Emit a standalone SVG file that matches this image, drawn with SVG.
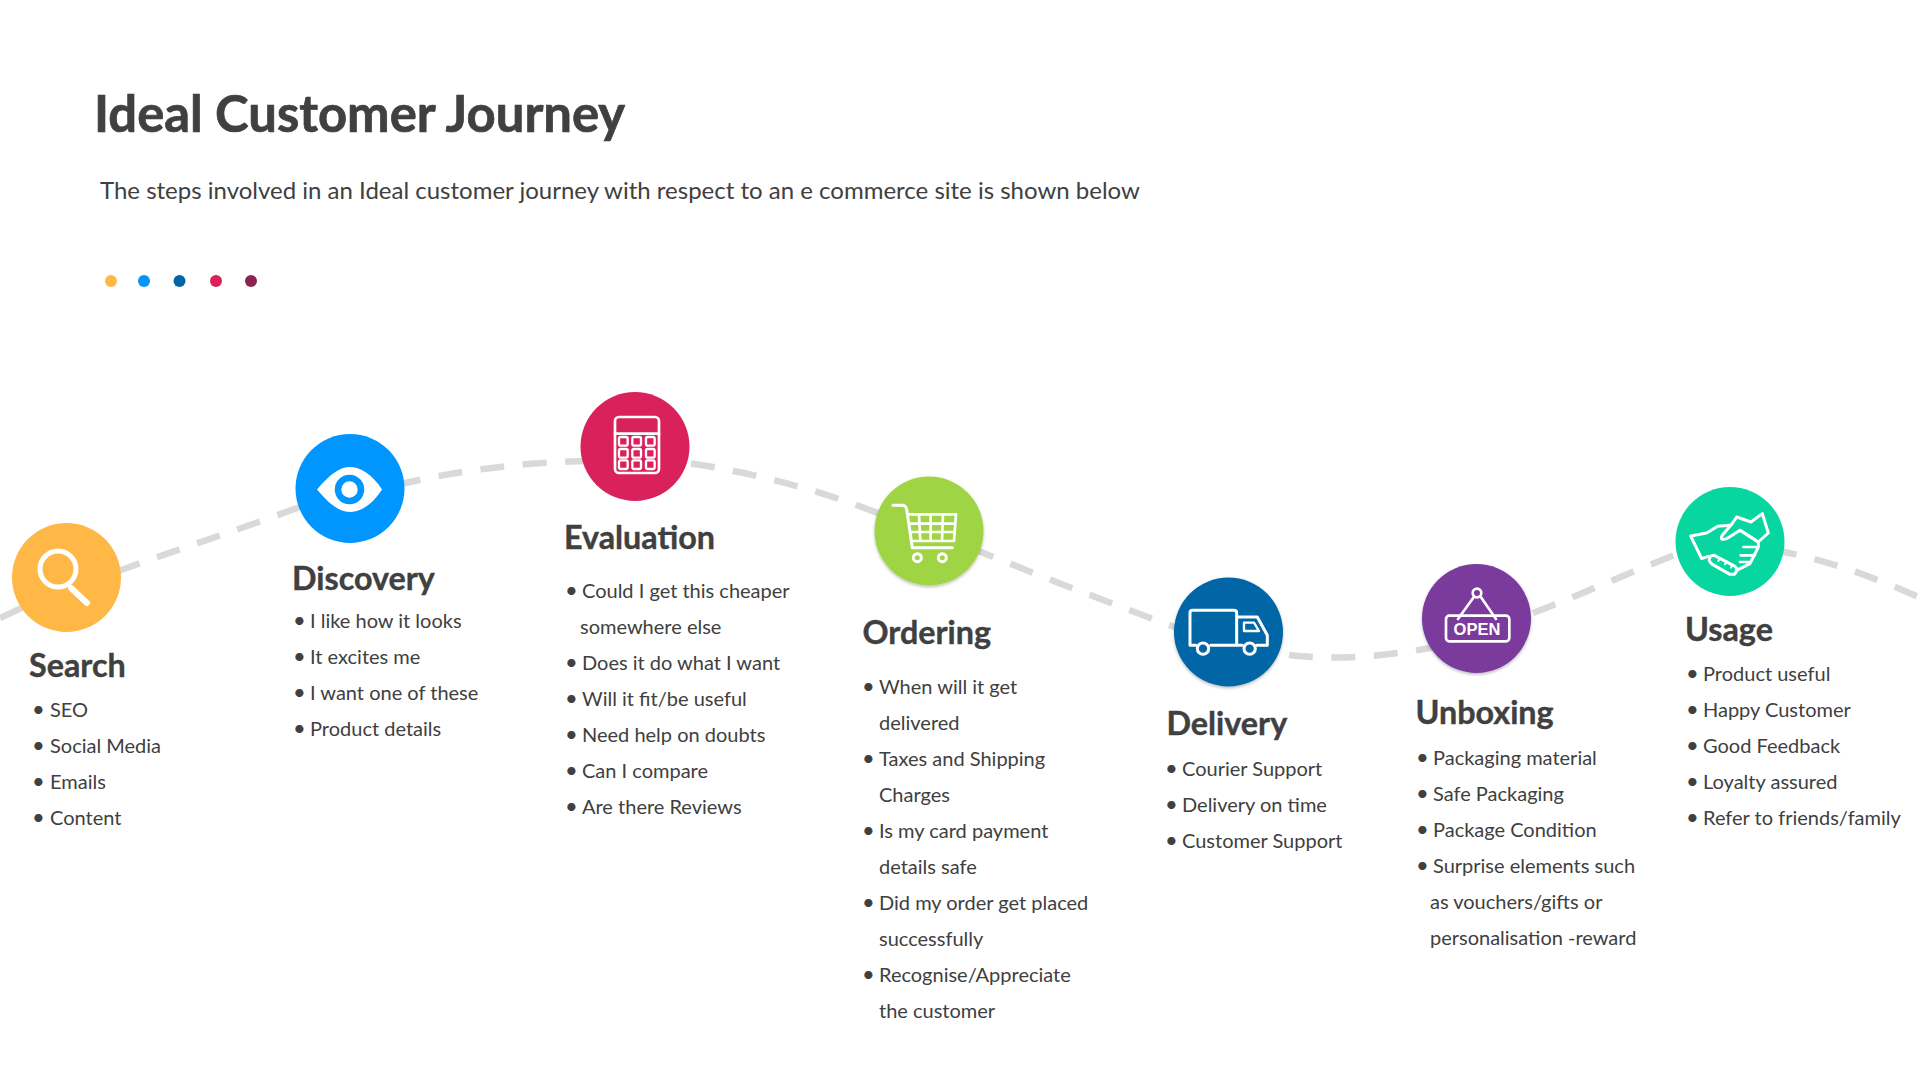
<svg xmlns="http://www.w3.org/2000/svg" width="1920" height="1080" viewBox="0 0 1920 1080">
<style>
text{font-family:Lato,"Liberation Sans",sans-serif;fill:#404040}
.h{font-size:32.3px;font-weight:700;stroke:#404040;stroke-width:.4px}
.t{font-size:20px;transform:translateY(-.8px)}
.b{font-size:22px;transform:translateY(-.8px)}
.i{fill:none;stroke:#fff;stroke-linejoin:round;stroke-linecap:round}
.s{filter:url(#sh)}
#connectors path{fill:none;stroke:#d9d9d9;stroke-width:6.5px;stroke-dasharray:24 18.5}
</style>
<defs><filter id="sh" x="-10%" y="-10%" width="120%" height="125%"><feDropShadow dx="0" dy="1.5" stdDeviation="1.5" flood-color="#000" flood-opacity=".28"/></filter></defs>
<rect width="1920" height="1080" fill="#fff"/>
<text x="94" y="132" font-size="50.8" font-weight="700" stroke="#404040" stroke-width=".7">Ideal Customer Journey</text>
<text x="100" y="199" font-size="24">The steps involved in an Ideal customer journey with respect to an e commerce site is shown below</text>
<g id="dots"><circle cx="111" cy="281" r="6" fill="#ffb845"/><circle cx="144" cy="281" r="6" fill="#0096ff"/><circle cx="179.500" cy="281" r="6" fill="#0066a6"/><circle cx="216" cy="281" r="6" fill="#d9215c"/><circle cx="251" cy="281" r="6" fill="#8e2252"/></g>
<g id="connectors">
<path d="M0 618L30 604"/>
<path d="M117 571.500C170 552 230 533 305 505"/>
<path d="M397 485C450 472 520 462 590 461"/>
<path d="M691 463.500C750 472 820 490 880 514"/>
<path d="M971 548C1040 576 1110 603 1180 629"/>
<path d="M1289 655C1330 660 1380 658 1440 646"/>
<path d="M1533 613C1580 595 1630 572 1680 553"/>
<path d="M1773 550C1820 558 1870 575 1925 600"/>
</g>
<g id="search"><circle cx="66.500" cy="577.500" r="54.500" fill="#ffb845"/><circle class="i" cx="58" cy="569" r="18" stroke-width="5"/><path class="i" d="M71 588L87 603" stroke-width="6" stroke-linecap="butt"/>
<text class="h" x="29" y="677">Search</text>
<text class="t"><tspan x="50" y="718">SEO</tspan><tspan x="50" y="754">Social Media</tspan><tspan x="50" y="790">Emails</tspan><tspan x="50" y="826">Content</tspan></text>
<text class="b"><tspan x="32" y="718">•</tspan><tspan x="32" y="754">•</tspan><tspan x="32" y="790">•</tspan><tspan x="32" y="826">•</tspan></text></g>
<g id="discovery"><circle cx="350" cy="488.500" r="54.500" fill="#0096ff"/><path d="M317 489.500C330 474 340 467 350 467C360 467 372 474 382 489.500C372 505 360 512 350 512C340 512 330 505 317 489.500Z" fill="#fff"/><circle cx="349.500" cy="489.500" r="11.500" fill="none" stroke="#0096ff" stroke-width="6.500"/>
<text class="h" x="292" y="590">Discovery</text>
<text class="t"><tspan x="310" y="629">I like how it looks</tspan><tspan x="310" y="665">It excites me</tspan><tspan x="310" y="701">I want one of these</tspan><tspan x="310" y="737">Product details</tspan></text>
<text class="b"><tspan x="293" y="629">•</tspan><tspan x="293" y="665">•</tspan><tspan x="293" y="701">•</tspan><tspan x="293" y="737">•</tspan></text></g>
<g id="evaluation"><circle cx="635" cy="446.500" r="54.500" fill="#d9215c"/><g transform="translate(580 392) scale(.3333)"><rect class="i" x="105" y="75" width="132" height="168" rx="12" stroke-width="8"/><path class="i" d="M105 125H237" stroke-width="8"/>
<g class="i" stroke-width="7"><rect x="117" y="135" width="26" height="26" rx="5"/><rect x="157" y="135" width="26" height="26" rx="5"/><rect x="198" y="135" width="26" height="26" rx="5"/><rect x="117" y="171" width="26" height="26" rx="5"/><rect x="157" y="171" width="26" height="26" rx="5"/><rect x="198" y="171" width="26" height="26" rx="5"/><rect x="117" y="205" width="26" height="26" rx="5"/><rect x="157" y="205" width="26" height="26" rx="5"/><rect x="198" y="205" width="26" height="26" rx="5"/></g></g>
<text class="h" x="564" y="549">Evaluation</text>
<text class="t"><tspan x="582" y="599">Could I get this cheaper</tspan><tspan x="580" y="635">somewhere else</tspan><tspan x="582" y="671">Does it do what I want</tspan><tspan x="582" y="707">Will it fit/be useful</tspan><tspan x="582" y="743">Need help on doubts</tspan><tspan x="582" y="779">Can I compare</tspan><tspan x="582" y="815">Are there Reviews</tspan></text>
<text class="b"><tspan x="565" y="599">•</tspan><tspan x="565" y="671">•</tspan><tspan x="565" y="707">•</tspan><tspan x="565" y="743">•</tspan><tspan x="565" y="779">•</tspan><tspan x="565" y="815">•</tspan></text></g>
<g id="ordering"><circle class="s" cx="929" cy="531" r="54.500" fill="#9fd545"/><g transform="translate(874 476) scale(.3333)"><path class="i" d="M57 88H84Q95 88 98 100L115 215H235" stroke-width="9"/><path class="i" d="M103 115H246L240 195H112M106 143H244M109 168H242M135 115L139 195M170 115V195M207 115L204 195" stroke-width="8"/><circle class="i" cx="130" cy="245" r="12" stroke-width="9"/><circle class="i" cx="205" cy="245" r="12" stroke-width="9"/></g>
<text class="h" x="862.500" y="644">Ordering</text>
<text class="t"><tspan x="879" y="695">When will it get</tspan><tspan x="879" y="731">delivered</tspan><tspan x="879" y="767">Taxes and Shipping</tspan><tspan x="879" y="803">Charges</tspan><tspan x="879" y="839">Is my card payment</tspan><tspan x="879" y="875">details safe</tspan><tspan x="879" y="911">Did my order get placed</tspan><tspan x="879" y="947">successfully</tspan><tspan x="879" y="983">Recognise/Appreciate</tspan><tspan x="879" y="1019">the customer</tspan></text>
<text class="b"><tspan x="862" y="695">•</tspan><tspan x="862" y="767">•</tspan><tspan x="862" y="839">•</tspan><tspan x="862" y="911">•</tspan><tspan x="862" y="983">•</tspan></text></g>
<g id="delivery"><circle class="s" cx="1228.500" cy="632" r="54.500" fill="#0066a6"/><g transform="translate(1174 577) scale(.3333)"><path class="i" d="M65 205H48V108Q48 100 56 100H180Q188 100 188 108V205M110 205H205M248 205H280V175L250 120H188" stroke-width="9"/><path class="i" d="M210 137H240L255 162H210Z" stroke-width="7"/><circle class="i" cx="87" cy="215" r="17" stroke-width="9"/><circle class="i" cx="227" cy="215" r="17" stroke-width="9"/></g>
<text class="h" x="1166.500" y="735">Delivery</text>
<text class="t"><tspan x="1182" y="777">Courier Support</tspan><tspan x="1182" y="813">Delivery on time</tspan><tspan x="1182" y="849">Customer Support</tspan></text>
<text class="b"><tspan x="1165" y="777">•</tspan><tspan x="1165" y="813">•</tspan><tspan x="1165" y="849">•</tspan></text></g>
<g id="unboxing"><circle class="s" cx="1476.500" cy="618.500" r="54.500" fill="#7a3b9c"/><g transform="translate(1422 564) scale(.3333)"><rect class="i" x="72" y="155" width="190" height="77" rx="10" stroke-width="8"/><path class="i" d="M155 100L108 165M177 100L222 165" stroke-width="8"/><circle class="i" cx="165" cy="87" r="13" stroke-width="8"/></g>
<text x="1477" y="634.700" font-size="16.500" font-weight="700" text-anchor="middle" style="font-family:'Liberation Sans',sans-serif;fill:#fff">OPEN</text>
<text class="h" x="1415.500" y="724">Unboxing</text>
<text class="t"><tspan x="1433" y="766">Packaging material</tspan><tspan x="1433" y="802">Safe Packaging</tspan><tspan x="1433" y="838">Package Condition</tspan><tspan x="1433" y="874">Surprise elements such</tspan><tspan x="1430" y="910">as vouchers/gifts or</tspan><tspan x="1430" y="946">personalisation -reward</tspan></text>
<text class="b"><tspan x="1416" y="766">•</tspan><tspan x="1416" y="802">•</tspan><tspan x="1416" y="838">•</tspan><tspan x="1416" y="874">•</tspan></text></g>
<g id="usage"><circle cx="1730" cy="541.500" r="54.500" fill="#08d6a0"/><g transform="translate(1675 487) scale(.3333)"><g class="i" stroke-width="9"><path d="M128 118L95 138L47 147L80 215L100 208M128 118L165 115"/><path d="M185 90L228 105L262 80L280 138L250 165L195 130L155 155Q132 162 142 145L170 112Z"/><path d="M195 130L250 165V180L225 230L185 250"/><path d="M205 180H248M197 205H240M195 225H225" stroke-width="8"/><path d="M118 205L180 238Q192 248 178 262L165 262L112 232Q95 218 108 207Z"/><path d="M130 222L135 214M150 232L155 224M168 242L172 234" stroke-width="6"/></g></g>
<text class="h" x="1685" y="641">Usage</text>
<text class="t"><tspan x="1703" y="682">Product useful</tspan><tspan x="1703" y="718">Happy Customer</tspan><tspan x="1703" y="754">Good Feedback</tspan><tspan x="1703" y="790">Loyalty assured</tspan><tspan x="1703" y="826">Refer to friends/family</tspan></text>
<text class="b"><tspan x="1686" y="682">•</tspan><tspan x="1686" y="718">•</tspan><tspan x="1686" y="754">•</tspan><tspan x="1686" y="790">•</tspan><tspan x="1686" y="826">•</tspan></text></g>
</svg>
